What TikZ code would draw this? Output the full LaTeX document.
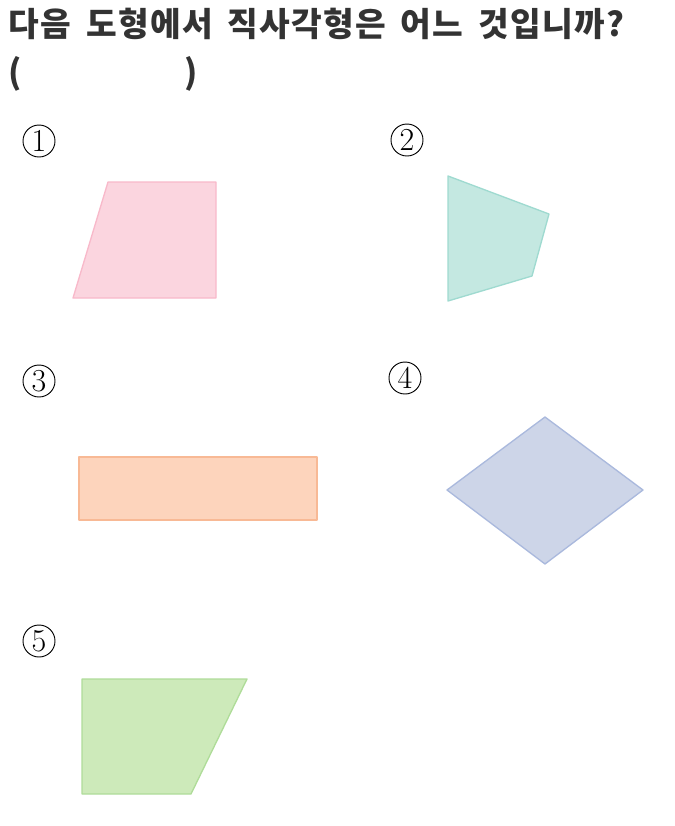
\documentclass[tikz,border=0pt]{standalone}
\usepackage{fontspec}
\newfontfamily\kofont{Noto Sans CJK KR}[LetterSpace=4]
\definecolor{pinkfill}{HTML}{FBD5DF}
\definecolor{pinkline}{HTML}{F8B9CA}
\definecolor{tealfill}{HTML}{C4E8E1}
\definecolor{tealline}{HTML}{9FDAD0}
\definecolor{orangefill}{HTML}{FDD4BC}
\definecolor{orangeline}{HTML}{F8B995}
\definecolor{bluefill}{HTML}{CDD5E8}
\definecolor{blueline}{HTML}{AAB9DD}
\definecolor{greenfill}{HTML}{CDEABA}
\definecolor{greenline}{HTML}{AFDC99}
\definecolor{titlegray}{HTML}{333333}
\newcommand{\qfont}{\kofont\bfseries\fontsize{25}{30}\selectfont\spaceskip=11pt\relax}
\begin{document}
\begin{tikzpicture}[x=0.75pt,y=-0.75pt,
  figshape/.style={line width=1pt,line join=round},
  qtext/.style={anchor=west,text=titlegray,font=\qfont},
  num/.style={circle,draw,line width=0.7pt,minimum size=24pt,inner sep=0pt,font=\fontsize{24}{24}\selectfont}]
\useasboundingbox (0,0) rectangle (675,826);
% question
\node[qtext] (title) at (4,24) {다음 도형에서 직사각형은 어느 것입니까?};
\node[qtext] (lpar) at (4,74) {(};
\node[qtext] (rpar) at (180,74) {)};
% choice numbers
\node[num] (n1) at (39,141) {1};
\node[num] (n2) at (407,140) {2};
\node[num] (n3) at (39,381) {3};
\node[num] (n4) at (405,378) {4};
\node[num] (n5) at (39,641) {5};
% shape 1: trapezoid
\filldraw[figshape,fill=pinkfill,draw=pinkline] (108,182) -- (216,182) -- (216,298) -- (73,298) -- cycle;
% shape 2: quadrilateral
\filldraw[figshape,fill=tealfill,draw=tealline] (448,176) -- (549,214) -- (532,276) -- (448,301) -- cycle;
% shape 3: rectangle
\filldraw[figshape,fill=orangefill,draw=orangeline] (79,457) rectangle (317,520);
% shape 4: rhombus
\filldraw[figshape,fill=bluefill,draw=blueline] (545,417) -- (643,490) -- (545,564) -- (447,490) -- cycle;
% shape 5: trapezoid
\filldraw[figshape,fill=greenfill,draw=greenline] (82,679) -- (247,679) -- (191,794) -- (82,794) -- cycle;
\end{tikzpicture}
\end{document}
